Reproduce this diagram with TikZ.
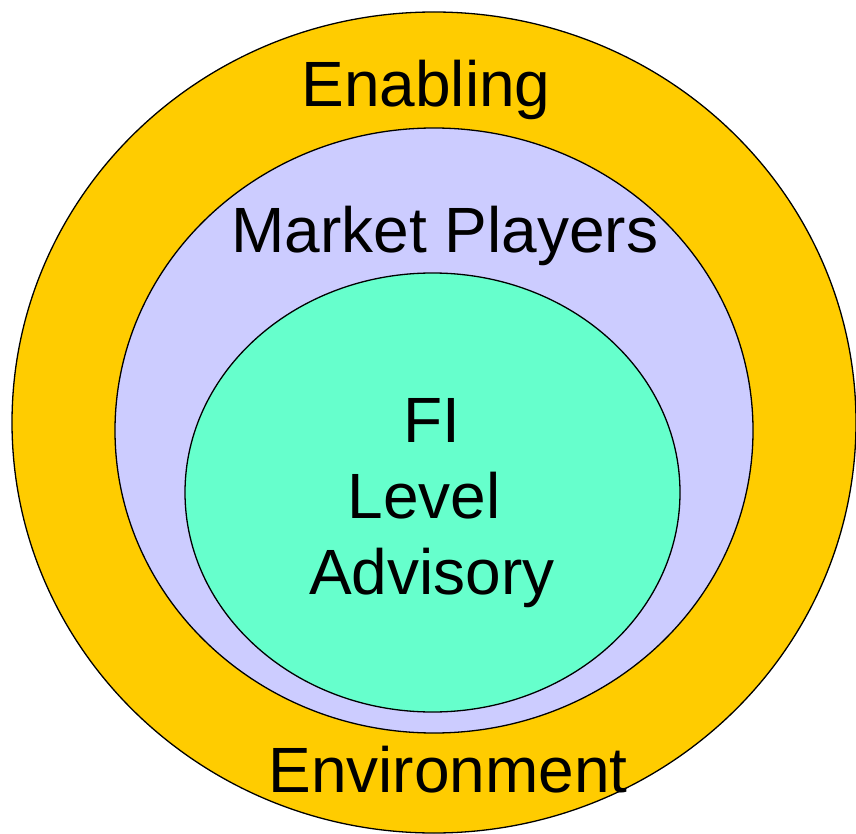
\documentclass[tikz,border=0pt]{standalone}
\usepackage{fontspec}
\setmainfont{Liberation Sans}
\definecolor{outerc}{HTML}{FFCC00}
\definecolor{midc}{HTML}{CCCCFF}
\definecolor{innerc}{HTML}{66FFCC}
\begin{document}
\begin{tikzpicture}[x=1pt,y=-1pt,
  ring/.style={draw=black,line width=1.3pt},
  lbl/.style={anchor=base,inner sep=0pt,font=\fontsize{64}{76}\selectfont}]
\useasboundingbox (0,0) rectangle (856,834);
\fill[outerc,ring] (434,422.5) ellipse [x radius=422,y radius=410.5];
\fill[midc,ring] (434,430.5) ellipse [x radius=319,y radius=302.5];
\fill[innerc,ring] (432.5,492.5) ellipse [x radius=247.5,y radius=219.5];
\node[lbl] (en) at (426,107) {Enabling};
\node[lbl] (mp) at (445,252) {Market Players};
\node[lbl] (fi) at (432,442) {FI};
\node[lbl] (lv) at (424,518) {Level};
\node[lbl] (ad) at (432,594) {Advisory};
\node[lbl] (ev) at (448,792) {Environment};
\end{tikzpicture}
\end{document}
